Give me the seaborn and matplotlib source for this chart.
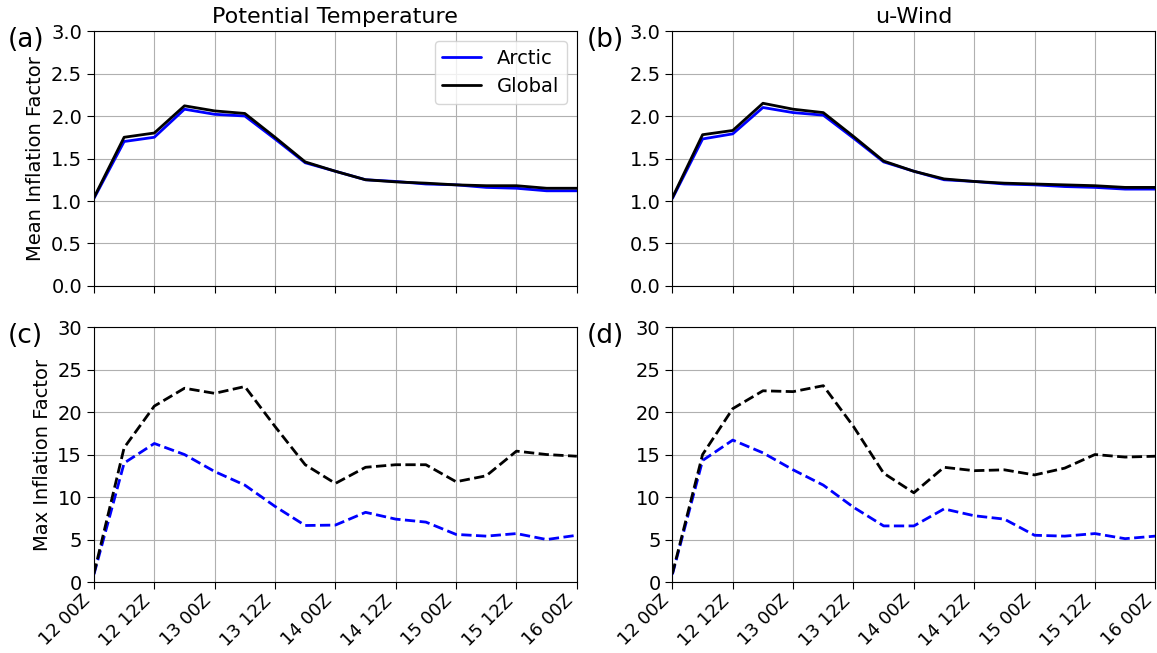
import numpy as np
import pandas as pd
import matplotlib
matplotlib.use("Agg")
import matplotlib.pyplot as plt
from matplotlib.lines import Line2D
import seaborn as sns

# forecast hours from 12 00Z, every 6 h
hours = list(range(0, 97, 6))
tick_hours = list(range(0, 97, 12))
tick_labels = ['12 00Z', '12 12Z', '13 00Z', '13 12Z', '14 00Z',
               '14 12Z', '15 00Z', '15 12Z', '16 00Z']

# mean inflation factor
theta_mean_arctic = [1.03, 1.70, 1.75, 2.08, 2.02, 2.00, 1.73, 1.45, 1.35, 1.25,
                     1.23, 1.20, 1.19, 1.16, 1.15, 1.12, 1.12]
theta_mean_global = [1.04, 1.75, 1.80, 2.12, 2.06, 2.03, 1.75, 1.46, 1.35, 1.25,
                     1.225, 1.21, 1.19, 1.18, 1.18, 1.15, 1.15]
u_mean_arctic = [1.03, 1.73, 1.79, 2.10, 2.04, 2.01, 1.74, 1.46, 1.35, 1.25,
                 1.23, 1.20, 1.19, 1.17, 1.16, 1.14, 1.14]
u_mean_global = [1.04, 1.78, 1.83, 2.15, 2.08, 2.04, 1.76, 1.47, 1.35, 1.26,
                 1.23, 1.21, 1.20, 1.19, 1.18, 1.16, 1.16]

# max inflation factor
theta_max_arctic = [0.9, 14.0, 16.3, 15.0, 13.0, 11.4, 8.9, 6.65, 6.7, 8.2,
                    7.4, 7.05, 5.6, 5.4, 5.7, 5.0, 5.5]
theta_max_global = [1.0, 15.8, 20.7, 22.8, 22.2, 23.0, 18.3, 13.8, 11.6, 13.5,
                    13.8, 13.8, 11.8, 12.5, 15.4, 15.0, 14.8]
u_max_arctic = [0.9, 14.3, 16.7, 15.2, 13.2, 11.4, 8.8, 6.6, 6.6, 8.6,
                7.8, 7.4, 5.5, 5.4, 5.7, 5.1, 5.4]
u_max_global = [1.0, 15.0, 20.4, 22.5, 22.4, 23.1, 18.3, 12.8, 10.5, 13.5,
                13.1, 13.2, 12.6, 13.4, 15.0, 14.7, 14.8]

sns.set_style("ticks", {"axes.grid": True, "grid.color": "#b0b0b0",
                        "axes.edgecolor": "black", "xtick.color": "black",
                        "ytick.color": "black", "text.color": "black",
                        "axes.labelcolor": "black"})
plt.rcParams['font.family'] = ['DejaVu Sans']
plt.rcParams['grid.linewidth'] = 0.8

fig, axes = plt.subplots(2, 2, figsize=(11.57, 6.53), dpi=100)
fig.subplots_adjust(left=0.0812, right=0.9985, top=0.9525, bottom=0.1087,
                    wspace=0.198, hspace=0.161)

panels = [
    (axes[0, 0], theta_mean_arctic, theta_mean_global, '-', '(a)'),
    (axes[0, 1], u_mean_arctic, u_mean_global, '-', '(b)'),
    (axes[1, 0], theta_max_arctic, theta_max_global, '--', '(c)'),
    (axes[1, 1], u_max_arctic, u_max_global, '--', '(d)'),
]

for ax, arctic, glob, ls, letter in panels:
    df = pd.DataFrame({'hour': hours * 2,
                       'value': arctic + glob,
                       'region': ['Arctic'] * len(hours) + ['Global'] * len(hours)})
    sns.lineplot(data=df, x='hour', y='value', hue='region',
                 palette={'Arctic': 'blue', 'Global': 'black'},
                 linewidth=2, linestyle=ls, ax=ax, legend=False)
    ax.set_xlim(0, 96)
    ax.set_xticks(tick_hours)
    ax.set_xlabel('')
    ax.set_ylabel('')
    ax.tick_params(axis='y', labelsize=14, length=5, colors='black')
    ax.tick_params(axis='x', labelsize=13, length=5, pad=2, colors='black')
    ax.text(-0.178, 0.965, letter, transform=ax.transAxes, fontsize=19,
            va='center', ha='left')

for ax in axes[0]:
    ax.set_ylim(0, 3)
    ax.set_yticks(np.arange(0, 3.01, 0.5))
    ax.set_xticklabels([])
for ax in axes[1]:
    ax.set_ylim(0, 30)
    ax.set_yticks(range(0, 31, 5))
    ax.set_xticklabels(tick_labels, rotation=45, ha='right')

axes[0, 0].set_title('Potential Temperature', fontsize=16)
axes[0, 1].set_title('u-Wind', fontsize=16)
axes[0, 0].set_ylabel('Mean Inflation Factor', fontsize=14)
axes[1, 0].set_ylabel('Max Inflation Factor', fontsize=14)

handles = [Line2D([], [], color='blue', lw=2), Line2D([], [], color='black', lw=2)]
axes[0, 0].legend(handles, ['Arctic', 'Global'], loc='upper right', fontsize=14)

fig.savefig('out.png', dpi=100)
